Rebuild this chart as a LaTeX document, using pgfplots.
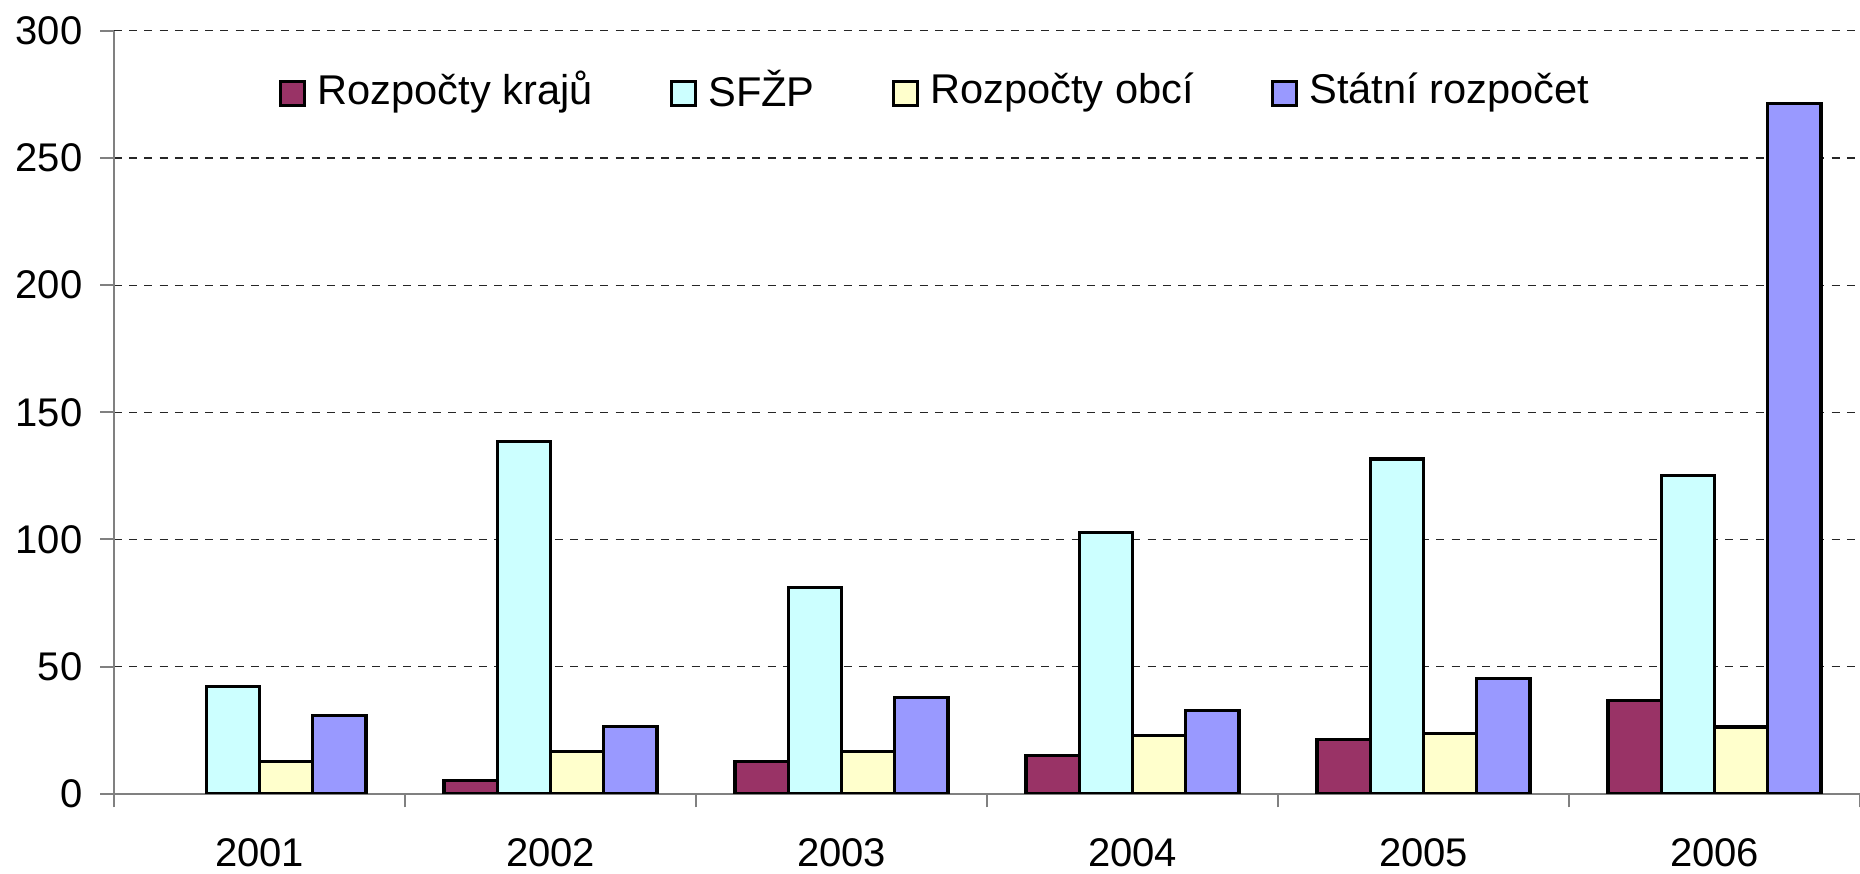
\documentclass[border=0pt]{standalone}
\usepackage{pgfplots}
\pgfplotsset{compat=1.18}
\usepackage{fontspec}
\setmainfont{Liberation Sans}
\definecolor{cKraj}{HTML}{993366}
\definecolor{cSfzp}{HTML}{CCFFFF}
\definecolor{cObce}{HTML}{FFFFCC}
\definecolor{cStat}{HTML}{9999FF}
\pgfplotsset{sqlegend/.style={legend image code/.code={\draw[##1,line width=0.8pt] (0pt,-3.6pt) rectangle (6pt,2.4pt); \path[draw=none,fill=none] (0pt,0pt) -- (7.7pt,0pt);}}}
\begin{document}
\begin{tikzpicture}
\begin{axis}[
  scale only axis, width=436.5pt, height=190.75pt,
  ymin=0, ymax=300, ytick={0,50,...,300},
  xmin=-0.5, xmax=5.5,
  xtick={-0.5,0.5,1.5,2.5,3.5,4.5,5.5},
  x tick label as interval,
  xticklabels={2001,2002,2003,2004,2005,2006},
  axis x line*=bottom, axis y line*=left,
  axis line style={draw=gray, line width=0.5pt},
  tick style={draw=gray, line width=0.5pt},
  major tick length=3.4pt,
  tick align=outside,
  ymajorgrids, grid style={draw=black!85, dash pattern=on 2pt off 1.8pt, line width=0.3pt},
  ybar=0pt, bar width=0.183,
  /pgf/number format/assume math mode=true,
  ticklabel style={font=\fontsize{10}{12}\selectfont},
  xticklabel style={yshift=-4.3pt},
  yticklabel style={xshift=-1pt},
  legend columns=4,
  legend style={draw=none, fill=none, at={(0.0873,0.921)}, anchor=west,
    font=\fontsize{10.4}{12}\selectfont,
    /tikz/every even column/.append style={column sep=17.8pt},
    nodes={inner sep=1.5pt}},
]
\addplot[fill=cKraj, draw=black, line width=0.8pt, sqlegend] coordinates {(1,5.2) (2,12.8) (3,15.1) (4,21.3) (5,36.6)};
\addplot[fill=cSfzp, draw=black, line width=0.8pt, sqlegend] coordinates {(0,42.1) (1,138.5) (2,81.2) (3,102.8) (4,131.6) (5,125.2)};
\addplot[fill=cObce, draw=black, line width=0.8pt, sqlegend] coordinates {(0,12.8) (1,16.5) (2,16.5) (3,22.9) (4,23.7) (5,26.3)};
\addplot[fill=cStat, draw=black, line width=0.8pt, sqlegend] coordinates {(0,30.8) (1,26.6) (2,38.0) (3,32.8) (4,45.4) (5,271.3)};
\legend{Rozpočty krajů, SFŽP, Rozpočty obcí, Státní rozpočet}
\end{axis}
\pgfresetboundingbox
\path[use as bounding box] ([xshift=-28.5pt, yshift=-19.85pt]current axis.south west) rectangle ([yshift=7.7pt]current axis.north east);
\end{tikzpicture}
\end{document}
